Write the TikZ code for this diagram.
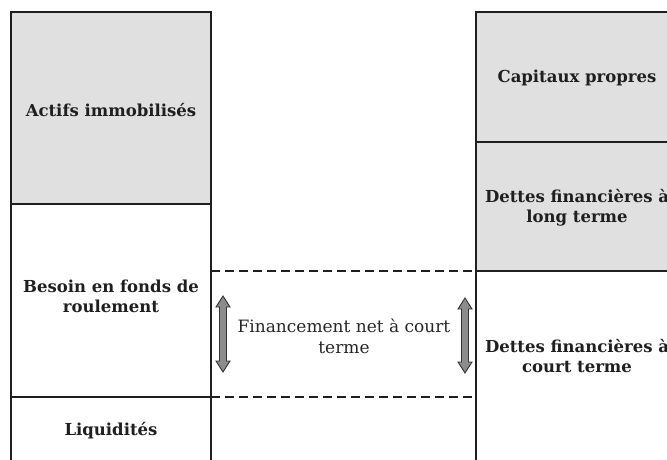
\documentclass[tikz,border=0pt]{standalone}
\usepackage{fontspec}
\setmainfont{DejaVu Serif}
\newcommand\vdblarrow[3]{%
  \draw[dbl] (#1,#2) -- (#1+7,#2+11) -- (#1+3.5,#2+11) -- (#1+3.5,#3-11) -- (#1+7,#3-11) -- (#1,#3)
    -- (#1-7,#3-11) -- (#1-3.5,#3-11) -- (#1-3.5,#2+11) -- (#1-7,#2+11) -- cycle;}
\begin{document}
\begin{tikzpicture}[x=1pt,y=-1pt,
  cell/.style={draw=black!88, line width=2.4pt},
  shade/.style={fill=black!12},
  dash line/.style={draw=black!88, line width=2.2pt, dash pattern=on 9pt off 5pt},
  lbl/.style={font=\bfseries\fontsize{16.5}{20}\selectfont, align=center, text=black!88},
  plain/.style={font=\fontsize{17}{21}\selectfont, align=center, text=black!85},
  dbl/.style={fill=black!45, draw=black!80, line width=0.9pt, line join=miter}]
\useasboundingbox (0,0) rectangle (667,459);
\clip (0,0) rectangle (667,459);
% fills
\fill[shade] (11,12) rectangle (211,204);
\fill[shade] (476,12) rectangle (690,271);
% left column
\draw[cell] (11,470) -- (11,12) -- (211,12) -- (211,470);
\draw[cell] (11,204) -- (211,204);
\draw[cell] (11,397) -- (211,397);
% right column
\draw[cell] (476,470) -- (476,12) -- (690,12);
\draw[cell] (476,142) -- (690,142);
\draw[cell] (476,271) -- (690,271);
% dashed band
\draw[dash line] (211,271) -- (476,271);
\draw[dash line] (211,397) -- (476,397);
% arrows
\vdblarrow{223}{296}{372}
\vdblarrow{465}{298}{373}
% labels
\node[lbl] (ai) at (111,110) {Actifs immobilisés};
\node[lbl] (bfr) at (111,296) {Besoin en fonds de\\roulement};
\node[lbl] (liq) at (111,431) {Liquidités};
\node[lbl] (cp) at (577,78) {Capitaux propres};
\node[lbl] (dflt) at (577,208) {Dettes financières à\\long terme};
\node[lbl] (dfct) at (577,356) {Dettes financières à\\court terme};
\node[plain] (fnct) at (344,336) {Financement net à court\\terme};
\end{tikzpicture}
\end{document}
